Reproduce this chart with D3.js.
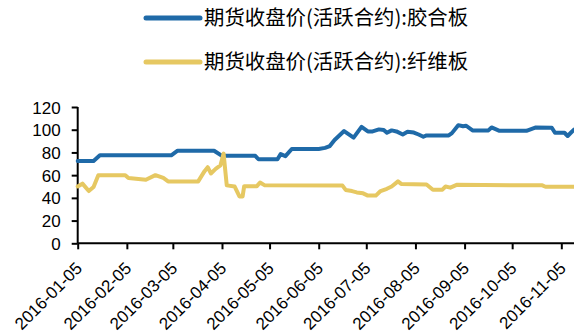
<!DOCTYPE html>
<html>
<head>
<meta charset="utf-8">
<script src="https://cdn.jsdelivr.net/npm/d3@7"></script>
<style>
  html, body { margin: 0; padding: 0; background: #fff; }
  svg { display: block; }
  .axis text { font-family: "Liberation Sans", Arial, sans-serif; font-size: 17px; fill: #000; }
  .legend text { font-family: "Noto Sans CJK SC", sans-serif; font-size: 20.4px; fill: #000; }
</style>
</head>
<body>
<svg id="chart" width="574" height="333"></svg>
<script>
// Futures closing price (active contract): plywood
const plywoodDates = [
  "2016-01-05","2016-01-15","2016-01-19","2016-03-04","2016-03-08","2016-03-31",
  "2016-04-05","2016-04-26","2016-04-28","2016-05-10","2016-05-12","2016-05-15",
  "2016-05-19","2016-06-05","2016-06-09","2016-06-12","2016-06-15","2016-06-21",
  "2016-06-27","2016-07-02","2016-07-06","2016-07-09","2016-07-13","2016-07-16",
  "2016-07-18","2016-07-21","2016-07-24","2016-07-28","2016-07-31","2016-08-04",
  "2016-08-07","2016-08-10","2016-08-12","2016-08-26","2016-08-28","2016-09-01",
  "2016-09-04","2016-09-06","2016-09-10","2016-09-20","2016-09-22","2016-09-27",
  "2016-10-14","2016-10-20","2016-10-30","2016-11-01","2016-11-07","2016-11-09",
  "2016-11-11","2016-11-13"
];
const plywoodPrices = [
  72.5, 72.5, 77.5, 77.5, 81.5, 81.5,
  77, 77, 74, 74, 78.5, 76.7,
  83, 83, 84, 85.6, 91, 98.8,
  93, 102.5, 98.5, 98.5, 100.3, 99.7,
  97.3, 99.4, 98.5, 95.8, 98.2, 97.5,
  95.8, 93.8, 95, 95, 97, 104,
  103, 103.5, 99.4, 99.4, 102, 99,
  99, 102, 101.7, 97.3, 97.3, 94.5,
  97.3, 100
];

// Futures closing price (active contract): fiberboard
const fiberboardDates = [
  "2016-01-05","2016-01-08","2016-01-12","2016-01-15","2016-01-18","2016-02-04",
  "2016-02-06","2016-02-17","2016-02-23","2016-02-28","2016-03-02","2016-03-21",
  "2016-03-25","2016-03-27","2016-03-29","2016-04-01","2016-04-04","2016-04-06",
  "2016-04-08","2016-04-13","2016-04-16","2016-04-18","2016-04-19","2016-04-27",
  "2016-04-29","2016-05-02","2016-06-20","2016-06-22","2016-06-26","2016-06-29",
  "2016-07-03","2016-07-06","2016-07-11","2016-07-14","2016-07-18","2016-07-21",
  "2016-07-25","2016-07-27","2016-08-12","2016-08-16","2016-08-22","2016-08-24",
  "2016-08-27","2016-08-31","2016-10-24","2016-10-26","2016-11-13"
];
const fiberboardPrices = [
  50, 52.5, 46, 49.5, 60, 60,
  57.5, 56, 60, 57.5, 54.5, 54.5,
  63.5, 67, 61.5, 65.5, 68.5, 79,
  51, 50, 41.3, 41.3, 50.3, 50.3,
  53.5, 51, 50.8, 47, 46, 44.8,
  44, 42, 42, 46, 48, 50,
  54.5, 52.3, 51.8, 47.2, 47.2, 50,
  49, 51.5, 51, 49.8, 49.8
];

const seriesNames = ["期货收盘价(活跃合约):胶合板", "期货收盘价(活跃合约):纤维板"];
const seriesColors = ["#1f6aa8", "#e6c862"];

const xTickDates = [
  "2016-01-05","2016-02-05","2016-03-05","2016-04-05","2016-05-05","2016-06-05",
  "2016-07-05","2016-08-05","2016-09-05","2016-10-05","2016-11-05"
];
const yTickValues = [0, 20, 40, 60, 80, 100, 120];

const parse = d3.timeParse("%Y-%m-%d");
const fmt = d3.timeFormat("%Y-%m-%d");

const svg = d3.select("#chart");
const plotLeft = 77.7, plotRight = 574, plotTop = 107, plotBottom = 243.3;

const x = d3.scaleTime()
  .domain([parse("2016-01-05"), parse("2016-11-13")])
  .range([plotLeft, plotRight]);
const y = d3.scaleLinear().domain([0, 120]).range([plotBottom, plotTop]);

// y axis
const yAxis = svg.append("g")
  .attr("class", "axis")
  .attr("transform", `translate(${plotLeft},0)`)
  .call(d3.axisLeft(y).tickValues(yTickValues).tickSize(6).tickPadding(11));
yAxis.select(".domain").attr("stroke", "#000").attr("stroke-width", 2)
  .attr("d", `M0,${plotBottom}V${plotTop}`);
yAxis.selectAll(".tick line").attr("stroke", "#000").attr("stroke-width", 2);
yAxis.selectAll(".tick text").attr("dy", "0.36em");

// x axis, labels slanted up to the right and ending just under each tick
const xAxis = svg.append("g")
  .attr("class", "axis")
  .attr("transform", `translate(0,${plotBottom})`)
  .call(d3.axisBottom(x).tickValues(xTickDates.map(parse)).tickFormat(fmt).tickSize(6));
xAxis.select(".domain").attr("stroke", "#000").attr("stroke-width", 2)
  .attr("d", `M${plotLeft},0H${plotRight}`);
xAxis.selectAll(".tick line").attr("stroke", "#000").attr("stroke-width", 2);
xAxis.selectAll(".tick text")
  .attr("text-anchor", "end")
  .attr("x", 0).attr("y", 0).attr("dy", 0)
  .attr("transform", "translate(5,26) rotate(-45)");

// lines
const line = d3.line()
  .x(d => x(d[0]))
  .y(d => y(d[1]));

const series = [
  plywoodDates.map((d, i) => [parse(d), plywoodPrices[i]]),
  fiberboardDates.map((d, i) => [parse(d), fiberboardPrices[i]])
];

// plywood first, fiberboard on top where the two cross
series.forEach((s, i) => {
  svg.append("path")
    .datum(s)
    .attr("fill", "none")
    .attr("stroke", seriesColors[i])
    .attr("stroke-width", 4)
    .attr("stroke-linejoin", "round")
    .attr("stroke-linecap", "round")
    .attr("d", line);
});

// legend
const legend = svg.append("g").attr("class", "legend");
const legendRows = [18, 62];
seriesNames.forEach((name, i) => {
  const g = legend.append("g").attr("transform", `translate(0,${legendRows[i]})`);
  g.append("line")
    .attr("x1", 146).attr("x2", 200).attr("y1", 0).attr("y2", 0)
    .attr("stroke", seriesColors[i]).attr("stroke-width", 5).attr("stroke-linecap", "round");
  g.append("text").attr("x", 204).attr("y", 0).attr("dy", "0.36em").text(name);
});
</script>
</body>
</html>
